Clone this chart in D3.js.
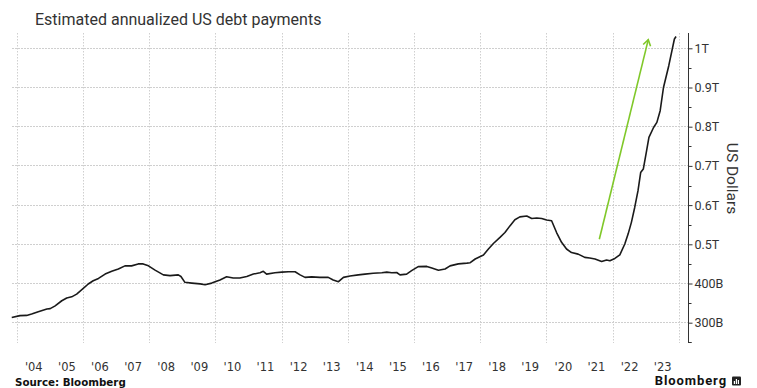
<!DOCTYPE html>
<html>
<head>
<meta charset="utf-8">
<script src="https://cdn.jsdelivr.net/npm/d3@7/dist/d3.min.js"></script>
<style>
  html, body { margin: 0; padding: 0; background: #fff; }
  svg { display: block; }
</style>
</head>
<body>
<svg id="chart" width="757" height="388"></svg>
<script>
// ---- Data ----
const title = "Estimated annualized US debt payments";
const sourceText = "Source: Bloomberg";
const yAxisTitle = "US Dollars";

// decimal years of each sampled point
const timeYears = [
  2003.85, 2004.10, 2004.30, 2004.45, 2004.65, 2004.91, 2005.01, 2005.16, 2005.36, 2005.51,
  2005.66, 2005.81, 2006.01, 2006.16, 2006.31, 2006.47, 2006.67, 2006.87, 2007.07, 2007.27,
  2007.47, 2007.67, 2007.82, 2007.98, 2008.18, 2008.43, 2008.63, 2008.88, 2008.96, 2009.08,
  2009.29, 2009.54, 2009.69, 2009.89, 2010.14, 2010.34, 2010.54, 2010.74, 2010.95, 2011.15,
  2011.35, 2011.45, 2011.55, 2011.80, 2012.01, 2012.21, 2012.41, 2012.56, 2012.71, 2012.91,
  2013.16, 2013.41, 2013.56, 2013.72, 2013.87, 2014.07, 2014.32, 2014.52, 2014.77, 2015.03,
  2015.18, 2015.33, 2015.48, 2015.58, 2015.78, 2015.93, 2016.13, 2016.39, 2016.54, 2016.74,
  2016.94, 2017.09, 2017.34, 2017.60, 2017.70, 2017.85, 2018.10, 2018.25, 2018.40, 2018.60,
  2018.75, 2018.90, 2019.05, 2019.20, 2019.41, 2019.56, 2019.71, 2019.86, 2020.01, 2020.16,
  2020.31, 2020.46, 2020.61, 2020.76, 2020.96, 2021.16, 2021.31, 2021.47, 2021.67, 2021.82,
  2021.92, 2022.07, 2022.22, 2022.37, 2022.47, 2022.57, 2022.67, 2022.77, 2022.85, 2022.93,
  2023.03, 2023.10, 2023.24, 2023.34, 2023.44, 2023.54, 2023.70, 2023.87, 2023.92
];
// annualized payments, billions of US dollars
const debtPayments = [
  313.5, 318, 318.6, 322, 328, 335, 336, 343, 356, 363,
  366, 373, 387.5, 398.7, 407, 413, 424, 431, 437, 445,
  445, 450, 450, 445, 434, 422, 420, 422, 418, 403,
  401, 399, 397, 401, 409, 417, 414, 414, 418, 424,
  427.6, 431, 424, 427.6, 429, 430, 430, 422, 415.6, 417,
  415.6, 415.6, 409, 404.6, 415.6, 419, 422, 424, 426, 427.6,
  429, 427.6, 428, 422, 424, 432.7, 443, 443.6, 439.5, 434,
  437, 445, 450, 452, 453, 462.5, 472.6, 488, 502, 517.6,
  530, 547, 562.8, 570, 572, 566, 567, 566, 562, 560,
  530, 505, 488, 479, 475, 466.6, 465, 462.5, 456, 460,
  458, 464, 473, 500.7, 526, 556, 594, 636.7, 683, 692,
  738.8, 772.7, 798, 811, 840.8, 900, 955.6, 1023.7, 1030
];

const yTickValues = [300, 400, 500, 600, 700, 800, 900, 1000];
const yTickLabels = ["300B", "400B", "0.5T", "0.6T", "0.7T", "0.8T", "0.9T", "1T"];
const yMinorTicks = [250, 350, 450, 550, 650, 750, 850, 950];
const xLabelYears = d3.range(2004, 2024);     // '04 .. '23
const xGridYears = d3.range(2004, 2025, 2);   // 2004, 2006, ..., 2024

// annotation arrow: [year, value] tail -> head
const arrowFrom = [2021.60, 513];
const arrowTo = [2023.08, 1022];

// ---- Helpers ----
function yearToDate(y) {
  const yr = Math.floor(y);
  const a = new Date(yr, 0, 1), b = new Date(yr + 1, 0, 1);
  return new Date(+a + (y - yr) * (b - a));
}

const data = timeYears.map((t, i) => ({ date: yearToDate(t), value: debtPayments[i] }));

// ---- Layout ----
const svg = d3.select("#chart");
const plotLeft = 12, plotRight = 688, plotTop = 33, plotBottom = 343;

const x = d3.scaleTime()
  .domain([yearToDate(2004), yearToDate(2024)])
  .range([16.7, 678.7]);

const y = d3.scaleLinear()
  .domain([300, 1000])
  .range([322.7, 48.3]);

const gridColor = "#cfcfcf";
const textColor = "#333";

// horizontal gridlines
svg.append("g")
  .selectAll("line")
  .data(yTickValues)
  .join("line")
  .attr("x1", plotLeft).attr("x2", plotRight)
  .attr("y1", d => y(d)).attr("y2", d => y(d))
  .attr("stroke", gridColor)
  .attr("stroke-width", 1)
  .attr("stroke-dasharray", "1.5,1.5")
  .attr("shape-rendering", "crispEdges");

// vertical gridlines
svg.append("g")
  .selectAll("line")
  .data(xGridYears)
  .join("line")
  .attr("x1", d => Math.round(x(yearToDate(d))) + 0.5)
  .attr("x2", d => Math.round(x(yearToDate(d))) + 0.5)
  .attr("y1", plotTop).attr("y2", plotBottom)
  .attr("stroke", gridColor)
  .attr("stroke-width", 1)
  .attr("stroke-dasharray", "1.5,1.5");

// line
const line = d3.line()
  .x(d => x(d.date))
  .y(d => y(d.value))
  .curve(d3.curveLinear);

svg.append("path")
  .datum(data)
  .attr("fill", "none")
  .attr("stroke", "#1a1a1a")
  .attr("stroke-width", 1.6)
  .attr("stroke-linejoin", "round")
  .attr("d", line);

// green arrow
const ax0 = x(yearToDate(arrowFrom[0])), ay0 = y(arrowFrom[1]);
const ax1 = x(yearToDate(arrowTo[0])), ay1 = y(arrowTo[1]);
const ang = Math.atan2(ay1 - ay0, ax1 - ax0);
const headLen = 7, headAng = Math.PI / 5.5;
const arrowColor = "#80c829";
svg.append("line")
  .attr("x1", ax0).attr("y1", ay0).attr("x2", ax1).attr("y2", ay1)
  .attr("stroke", arrowColor).attr("stroke-width", 1.6);
svg.append("path")
  .attr("d", `M${ax1 - headLen * Math.cos(ang - headAng)},${ay1 - headLen * Math.sin(ang - headAng)}`
    + `L${ax1},${ay1}`
    + `L${ax1 - headLen * Math.cos(ang + headAng)},${ay1 - headLen * Math.sin(ang + headAng)}`)
  .attr("fill", "none").attr("stroke", arrowColor).attr("stroke-width", 1.6)
  .attr("stroke-linejoin", "miter");

// right axis
const yAxisG = svg.append("g")
  .attr("transform", `translate(${plotRight + 0.5},0)`);
yAxisG.append("line")
  .attr("x1", 0).attr("x2", 0).attr("y1", plotTop).attr("y2", plotBottom)
  .attr("stroke", "#333").attr("stroke-width", 1);
yAxisG.append("line")
  .attr("x1", 0).attr("x2", 3).attr("y1", plotBottom - 0.5).attr("y2", plotBottom - 0.5)
  .attr("stroke", "#333");
const yAxis = d3.axisRight(y)
  .tickValues(yTickValues)
  .tickFormat((d, i) => yTickLabels[i])
  .tickSize(4)
  .tickPadding(2);
yAxisG.call(yAxis);
yAxisG.select(".domain").remove();
yAxisG.selectAll(".tick line").attr("stroke", "#333");
yAxisG.selectAll(".tick text")
  .attr("fill", textColor)
  .style("font-family", "Roboto, 'Noto Sans', sans-serif")
  .style("font-size", "12.5px");
yAxisG.append("g")
  .selectAll("line")
  .data(yMinorTicks.filter(v => y(v) >= plotTop && y(v) <= plotBottom))
  .join("line")
  .attr("x1", 0).attr("x2", 3)
  .attr("y1", d => Math.round(y(d)) + 0.5).attr("y2", d => Math.round(y(d)) + 0.5)
  .attr("stroke", "#333");

// y axis title (rotated clockwise)
svg.append("text")
  .attr("transform", `translate(727,178.5) rotate(90)`)
  .attr("text-anchor", "middle")
  .attr("fill", textColor)
  .style("font-family", "Roboto, 'Noto Sans', sans-serif")
  .style("font-size", "15.5px")
  .text(yAxisTitle);

// x axis labels
const xAxis = d3.axisBottom(x)
  .tickValues(xLabelYears.map(yr => yearToDate(yr + 0.5)))
  .tickFormat(d => "'" + String(d.getFullYear() % 100).padStart(2, "0"))
  .tickSize(0)
  .tickPadding(0);
const xAxisG = svg.append("g")
  .attr("transform", `translate(0,362.5)`)
  .call(xAxis);
xAxisG.select(".domain").remove();
xAxisG.selectAll(".tick text")
  .attr("fill", textColor)
  .style("font-family", "'DejaVu Sans', Verdana, sans-serif")
  .style("font-size", "11.5px");

// title
svg.append("text")
  .attr("x", 35).attr("y", 25)
  .attr("fill", textColor)
  .style("font-family", "Roboto, 'Noto Sans', sans-serif")
  .style("font-size", "16px")
  .text(title);

// source
svg.append("text")
  .attr("x", 15).attr("y", 385.5)
  .attr("fill", "#111")
  .style("font-family", "'DejaVu Sans', Verdana, sans-serif")
  .style("font-weight", "bold")
  .style("font-size", "10.3px")
  .text(sourceText);

// Bloomberg logo text
svg.append("text")
  .attr("x", 727).attr("y", 385.2)
  .attr("text-anchor", "end")
  .attr("fill", "#111")
  .style("font-family", "Roboto, 'Noto Sans', sans-serif")
  .style("font-weight", "bold")
  .style("font-size", "13px")
  .style("letter-spacing", "0.9px")
  .text("Bloomberg");
const logo = svg.append("g").attr("transform", "translate(732,376.5)");
logo.append("rect").attr("width", 9).attr("height", 9).attr("rx", 1).attr("fill", "#222");
logo.selectAll("rect.bar")
  .data([3, 5, 4])
  .join("rect")
  .attr("class", "bar")
  .attr("x", (d, i) => 1.8 + i * 2)
  .attr("y", d => 7.5 - d)
  .attr("width", 1.2)
  .attr("height", d => d)
  .attr("fill", "#fff");
</script>
</body>
</html>
